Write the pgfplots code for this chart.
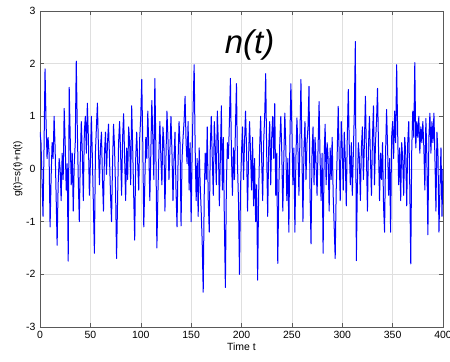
\documentclass[border=0pt]{standalone}
\usepackage{fontspec}
\setmainfont{Liberation Sans}
\usepackage{pgfplots}
\usepackage{pgfplotstable}
\pgfplotsset{compat=1.18}
\usetikzlibrary{calc}
\pgfplotstableread[row sep=\\,header=false]{
0.7\\0.5\\-0.2\\-0.9\\0.4\\1.9\\0.9\\0.2\\0.6\\0.3\\-1.1\\-0.2\\0.5\\0.2\\1.0\\0.4\\-0.5\\-1.45\\-0.3\\0.2\\
0.0\\-0.6\\0.3\\-0.2\\1.15\\0.5\\-0.4\\0.1\\-1.75\\1.55\\0.6\\-0.3\\0.3\\-0.8\\0.1\\0.5\\2.05\\0.8\\-0.2\\-1.0\\
0.2\\0.9\\0.3\\-0.6\\0.7\\1.0\\0.3\\1.25\\0.6\\-0.5\\0.1\\1.0\\0.2\\-0.7\\-1.6\\0.3\\0.8\\1.25\\0.4\\-0.3\\
0.4\\0.7\\-0.2\\-0.8\\0.3\\0.7\\-0.1\\0.5\\0.85\\0.2\\-0.5\\-1.0\\0.1\\0.85\\0.4\\-0.4\\-1.7\\-0.6\\0.5\\0.9\\
0.3\\-0.5\\0.6\\1.05\\0.2\\-0.6\\0.4\\-0.2\\0.8\\0.5\\-0.3\\1.2\\0.4\\-0.5\\-1.35\\0.2\\0.7\\0.1\\-0.4\\0.6\\
1.0\\1.7\\0.5\\-1.1\\-0.3\\0.6\\0.2\\1.1\\0.4\\-0.6\\0.3\\1.3\\0.6\\-0.2\\1.72\\0.4\\-1.5\\-0.5\\0.3\\0.9\\
0.2\\-0.3\\0.8\\0.5\\-0.8\\0.2\\1.1\\0.6\\-0.2\\0.4\\1.0\\0.3\\-0.6\\0.2\\0.7\\-0.4\\-1.1\\0.1\\0.9\\0.5\\
-1.08\\0.2\\0.6\\0.9\\1.38\\0.5\\0.1\\0.9\\-0.4\\0.5\\-1.0\\0.3\\1.2\\1.98\\0.4\\-0.6\\0.2\\-0.9\\0.4\\-0.3\\
-0.8\\-1.4\\-2.34\\-0.5\\0.3\\-0.2\\0.8\\-0.6\\-1.2\\0.4\\1.0\\0.2\\-0.5\\0.9\\0.4\\-0.3\\1.1\\0.5\\-0.7\\0.2\\
1.2\\-0.4\\0.6\\-1.0\\-2.25\\-0.3\\0.5\\0.2\\0.9\\1.72\\0.3\\-0.5\\0.4\\-0.2\\0.8\\1.62\\0.1\\-0.6\\-2.0\\-0.4\\
0.3\\0.8\\-0.2\\0.5\\1.1\\0.4\\-0.8\\0.2\\0.9\\0.3\\-0.4\\0.6\\-0.7\\0.2\\-1.0\\-0.3\\-2.11\\-0.5\\0.4\\1.0\\
0.2\\-0.6\\0.5\\1.0\\1.81\\0.3\\-0.9\\0.4\\0.9\\-0.3\\0.6\\1.0\\0.2\\1.24\\-0.5\\0.3\\-1.79\\-0.4\\0.5\\1.0\\
0.3\\-0.8\\0.2\\1.06\\0.4\\-0.6\\0.2\\-1.2\\0.5\\1.62\\0.8\\-0.3\\0.4\\-1.2\\0.2\\0.97\\0.4\\-0.5\\0.6\\1.7\\
0.3\\-1.0\\0.4\\0.9\\-0.2\\0.5\\0.8\\1.57\\-0.4\\-1.42\\0.3\\0.8\\-0.3\\0.6\\0.1\\-0.5\\0.4\\1.28\\0.2\\-0.6\\
0.3\\-1.6\\0.2\\0.85\\-0.3\\0.5\\0.2\\-0.8\\0.4\\-0.2\\0.6\\-0.5\\-1.1\\-1.7\\-0.4\\0.3\\1.19\\0.2\\-0.6\\0.9\\
0.4\\-0.4\\0.7\\0.2\\-0.7\\0.6\\1.51\\0.4\\-0.3\\0.5\\-0.5\\0.3\\1.1\\2.42\\-1.74\\-0.3\\0.5\\0.2\\-0.6\\0.4\\
0.8\\-0.2\\0.5\\1.38\\0.3\\-0.8\\0.4\\1.0\\0.2\\-0.5\\0.6\\1.2\\-0.3\\0.5\\0.9\\1.53\\0.4\\-0.6\\0.3\\-0.2\\
0.5\\-0.7\\-1.2\\0.3\\1.13\\0.4\\-0.5\\0.2\\-1.2\\0.6\\0.9\\0.2\\1.1\\0.5\\1.98\\0.7\\-0.3\\0.4\\-0.6\\0.5\\
0.2\\-0.5\\0.6\\0.3\\-0.7\\0.5\\0.9\\-0.3\\-1.8\\0.4\\1.1\\0.6\\2.02\\0.4\\0.9\\0.6\\1.0\\0.3\\0.8\\0.5\\
0.9\\0.4\\-0.4\\0.96\\0.2\\-1.25\\0.6\\1.06\\0.3\\0.9\\0.5\\1.06\\0.2\\-0.8\\0.7\\0.3\\-1.2\\-0.3\\0.4\\-0.9\\
0.0\\
}\noisedata
\begin{document}
\begin{tikzpicture}
\begin{axis}[
  name=ax,
  scale only axis,
  width=403bp, height=316bp,
  xmin=0, xmax=400, ymin=-3, ymax=3,
  xtick={0,50,...,400}, ytick={-3,-2,...,3},
  tick align=inside,
  major tick length=4bp,
  xtick pos=both, ytick pos=both,
  axis line style={gray!70!black, line width=0.5bp},
  tick style={gray!70!black, line width=0.4bp},
  grid=major,
  major grid style={gray!25, line width=0.4bp},
  tick label style={font=\fontsize{10.5}{12}\selectfont},
  /pgf/number format/assume math mode=true,
  xlabel={Time t},
  ylabel={g(t)=s(t)+n(t)},
  xlabel style={font=\fontsize{10.5}{12}\selectfont, yshift=3bp},
  ylabel style={font=\fontsize{10}{12}\selectfont, yshift=-3bp},
  xticklabel style={yshift=-1bp},
  yticklabel style={xshift=-1bp},
]
\addplot[color=blue, line width=1bp, no marks, line join=round] table[x expr=\coordindex, y index=0] {\noisedata};
\node[font=\fontsize{33}{38}\selectfont\itshape] at (axis cs:208,2.36) {n(t)};
\end{axis}
\pgfresetboundingbox
\path ($(ax.south west)+(-40bp,-35bp)$) rectangle ($(ax.north east)+(7bp,11bp)$);
\end{tikzpicture}
\end{document}
